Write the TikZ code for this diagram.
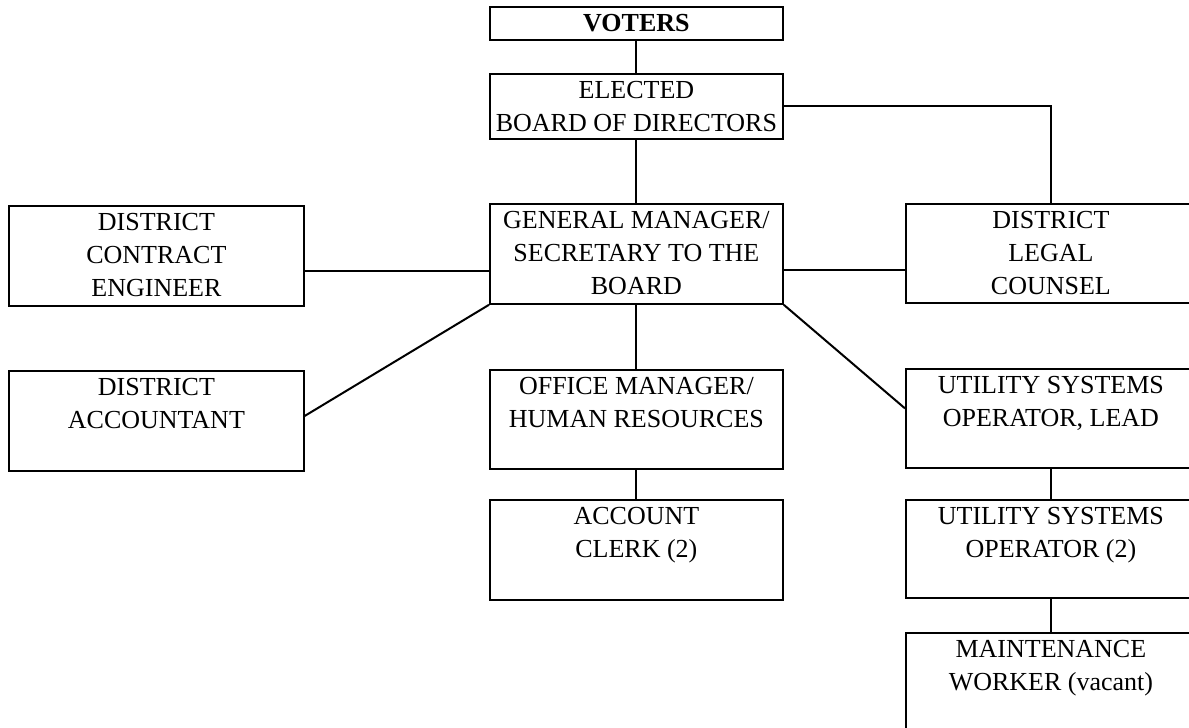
\documentclass[tikz,border=0pt]{standalone}
\usepackage{fontspec}
\setmainfont{Liberation Serif}
\newcommand{\bxt}[3]{\parbox[c][#2][t]{#1}{\centering\rule{0pt}{25pt}#3\par}}
\begin{document}
\begin{tikzpicture}[x=1pt,y=-1pt,
  orgbox/.style={draw=black, line width=1.8pt, inner sep=0pt, anchor=north west,
    font=\fontsize{26}{33}\selectfont},
  link/.style={draw=black, line width=2pt}]
\clip (0,0) rectangle (1189,728);
\fill[white] (0,0) rectangle (1189,728);
% boxes
\node[orgbox] (voters) at (489,6)   {\bxt{293pt}{33pt}{\textbf{VOTERS}}};
\node[orgbox] (board)  at (489,73)  {\bxt{293pt}{65pt}{ELECTED\\BOARD OF DIRECTORS}};
\node[orgbox] (gm)     at (489,203) {\bxt{293pt}{100pt}{GENERAL MANAGER/\\SECRETARY TO THE\\BOARD}};
\node[orgbox] (ce)     at (8,205)   {\bxt{295pt}{100pt}{DISTRICT\\CONTRACT\\ENGINEER}};
\node[orgbox] (legal)  at (905,203) {\bxt{290pt}{99pt}{DISTRICT\\LEGAL\\COUNSEL}};
\node[orgbox] (acc)    at (8,370)   {\bxt{295pt}{100pt}{DISTRICT\\ACCOUNTANT}};
\node[orgbox] (office) at (489,369) {\bxt{293pt}{99pt}{OFFICE MANAGER/\\HUMAN RESOURCES}};
\node[orgbox] (uso)    at (905,368) {\bxt{290pt}{99pt}{UTILITY SYSTEMS\\OPERATOR, LEAD}};
\node[orgbox] (clerk)  at (489,499) {\bxt{293pt}{100pt}{ACCOUNT\\CLERK (2)}};
\node[orgbox] (uso2)   at (905,499) {\bxt{290pt}{98pt}{UTILITY SYSTEMS\\OPERATOR (2)}};
\node[orgbox] (maint)  at (905,632) {\bxt{290pt}{130pt}{MAINTENANCE\\WORKER (vacant)}};
% connectors
\draw[link] (voters.south) -- (board.north);
\draw[link] (board.south) -- (gm.north);
\draw[link] (board.east) -| (legal.north);
\draw[link] ([yshift=-15pt]ce.east) -- ([yshift=-15pt]ce.east -| gm.west);
\draw[link] ([yshift=-16pt]gm.east) -- ([yshift=-16pt]gm.east -| legal.west);
\draw[link] ([yshift=5pt]acc.east) -- (gm.south west);
\draw[link] (gm.south) -- (office.north);
\draw[link] (gm.south east) -- ([yshift=10pt]uso.west);
\draw[link] (office.south) -- (clerk.north);
\draw[link] (uso.south) -- (uso2.north);
\draw[link] (uso2.south) -- (maint.north);
\end{tikzpicture}
\end{document}
